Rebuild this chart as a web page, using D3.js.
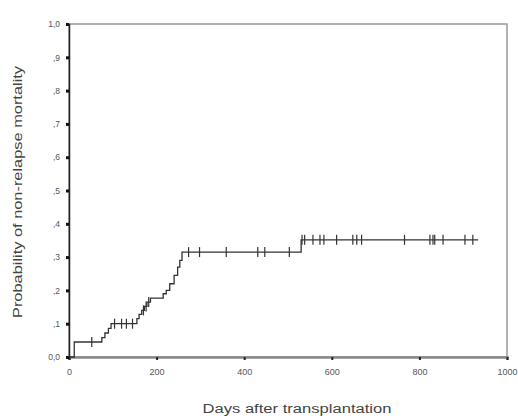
<!DOCTYPE html>
<html>
<head>
<meta charset="utf-8">
<script src="https://cdn.jsdelivr.net/npm/d3@7/dist/d3.min.js"></script>
<style>
  body { margin: 0; background: #fff; }
  svg { display: block; font-family: "Liberation Sans", Arial, sans-serif; }
</style>
</head>
<body>
<svg id="km" width="518" height="419"></svg>
<script>
// step function of cumulative non-relapse mortality (day, probability after the step)
var stepDays  = [0, 12, 75, 82, 90, 96, 155, 160, 166, 172, 178, 186, 215, 222, 230, 240, 248, 253, 258, 530];
var stepProbs = [0, 0.045, 0.058, 0.072, 0.086, 0.1, 0.115, 0.128, 0.14, 0.152, 0.165, 0.177, 0.19, 0.2, 0.22, 0.245, 0.27, 0.29, 0.315, 0.352];
var lastDay = 934;
// censored observations (days)
var censorDays = [52, 104, 120, 131, 145, 170, 176, 182, 273, 298, 359, 431, 447, 503, 532,
                  538, 557, 573, 582, 611, 648, 657, 668, 766, 824, 831, 835, 854, 904, 922];
var yTicks = [0, 0.1, 0.2, 0.3, 0.4, 0.5, 0.6, 0.7, 0.8, 0.9, 1.0];
var yTickLabels = ["0,0", ",1", ",2", ",3", ",4", ",5", ",6", ",7", ",8", ",9", "1,0"];
var xTicks = [0, 200, 400, 600, 800, 1000];

var svg = d3.select("#km"),
    margin = { top: 24, right: 11, bottom: 62, left: 69 },
    width = 518 - margin.left - margin.right,
    height = 419 - margin.top - margin.bottom,
    g = svg.append("g").attr("transform", "translate(" + margin.left + "," + margin.top + ")");

var x = d3.scaleLinear().domain([0, 1000]).range([0, width]);
var y = d3.scaleLinear().domain([0, 1]).range([height, 0]);

// frame (top and right borders, grey)
g.append("rect")
    .attr("x", 0).attr("y", 0)
    .attr("width", width).attr("height", height)
    .attr("fill", "none")
    .attr("stroke", "#999")
    .attr("stroke-width", 1.5);

// bottom axis
var axisX = g.append("g")
    .attr("transform", "translate(0," + height + ")")
    .call(d3.axisBottom(x).tickValues(xTicks).tickSize(3).tickPadding(9).tickFormat(d3.format("d")));
axisX.select(".domain").attr("stroke", "#888").attr("stroke-width", 2.5);
axisX.selectAll(".tick line").attr("stroke", "#222").attr("stroke-width", 2);
axisX.selectAll(".tick text").attr("font-size", 9).attr("fill", "#555");

// left axis
var axisY = g.append("g")
    .call(d3.axisLeft(y).tickValues(yTicks).tickSize(3).tickPadding(6)
        .tickFormat(function (d, i) { return yTickLabels[i]; }));
axisY.select(".domain").attr("stroke", "#222").attr("stroke-width", 1.5);
axisY.selectAll(".tick line").attr("stroke", "#111").attr("stroke-width", 3);
axisY.selectAll(".tick text").attr("font-size", 8.5).attr("fill", "#555");

// step curve
var pts = stepDays.map(function (d, i) { return [d, stepProbs[i]]; });
pts.push([lastDay, stepProbs[stepProbs.length - 1]]);
var line = d3.line()
    .x(function (d) { return x(d[0]); })
    .y(function (d) { return y(d[1]); })
    .curve(d3.curveStepAfter);
g.append("path")
    .datum(pts)
    .attr("fill", "none")
    .attr("stroke", "#333")
    .attr("stroke-width", 1.3)
    .attr("d", line);

function probAt(day) {
    var p = 0;
    stepDays.forEach(function (d, i) { if (d <= day) p = stepProbs[i]; });
    return p;
}

// censor marks
g.append("g").selectAll("line")
    .data(censorDays)
    .enter().append("line")
    .attr("x1", function (d) { return x(d); })
    .attr("x2", function (d) { return x(d); })
    .attr("y1", function (d) { return y(probAt(d)) - 5; })
    .attr("y2", function (d) { return y(probAt(d)) + 5; })
    .attr("stroke", "#333")
    .attr("stroke-width", 1.2);

// axis titles
svg.append("text")
    .attr("x", 297)
    .attr("y", 413)
    .attr("text-anchor", "middle")
    .attr("font-size", 12.5)
    .attr("textLength", 189)
    .attr("lengthAdjust", "spacingAndGlyphs")
    .attr("fill", "#444")
    .text("Days after transplantation");

svg.append("text")
    .attr("transform", "translate(22,192) rotate(-90)")
    .attr("text-anchor", "middle")
    .attr("font-size", 12.5)
    .attr("textLength", 252)
    .attr("lengthAdjust", "spacingAndGlyphs")
    .attr("fill", "#444")
    .text("Probability of non-relapse mortality");
</script>
</body>
</html>
